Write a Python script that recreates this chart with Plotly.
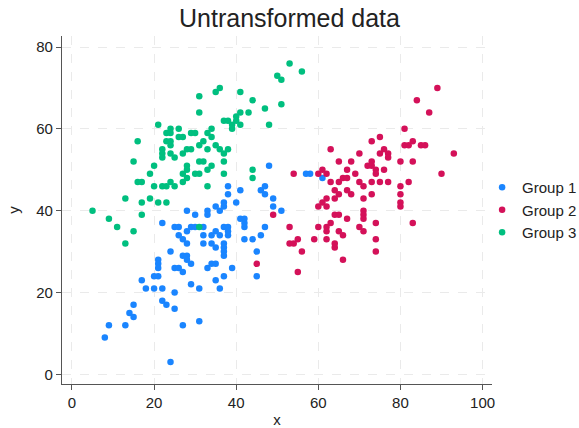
import plotly.graph_objects as go

# Group 1 (blue)
g1_x = [22,25,26,26,27,28,28,29,30,28,30,33,33,32,32,32,34,35,36,34,35,24,27,28,28,29,21,21,21,25,26,27,33,34,35,20,21,17,18,20,22,25,29,31,35,36,22,23,25,15,14,15,9,13,8,27,31,24,
        38,38,41,40,46,47,47,49,49,51,35,36,37,37,37,38,38,38,37,37,37,37,41,42,42,42,42,44,46,47,45,45,39,37,48,57,58,61]
g1_y = [37,36,36,34,33,32,35,36,36,40,39,40,39,36,34,32,34,35,34,32,31,30,29,29,28,27,28,27,26,26,26,25,26,27,27,24,24,23,21,21,21,20,22,21,23,21,18,17,16,17,15,14,12,12,9,12,13,3,
        46,44,45,42,45,46,44,43,41,40,41,40,41,42,36,36,35,34,32,31,30,29,38,38,37,36,33,33,34,36,30,24,26,24,51,49,49,48]

# Group 2 (crimson)
g2_x = [89,84,87,81,75,73,63,70,75,76,77,77,81,82,83,85,86,93,65,68,73,72,73,74,74,80,83,76,67,69,54,60,61,62,66,67,65,63,70,71,73,75,77,82,80,80,80,80,90,
        64,65,64,67,68,71,73,62,61,60,62,64,65,67,71,71,71,74,83,63,62,62,60,65,66,70,71,62,59,64,64,66,74,74,53,53,54,55,56,55,49,45]
g2_y = [70,67,64,60,58,57,55,54,54,55,54,53,56,56,57,56,56,54,52,52,52,51,51,50,49,52,52,50,50,49,49,49,50,49,48,48,47,47,47,46,47,47,47,47,46,44,42,41,49,
        45,44,43,45,44,43,44,43,42,41,41,39,39,38,40,39,38,37,37,37,36,35,36,35,34,36,35,33,33,32,31,28,33,30,36,32,32,33,30,25,39,27]

# Group 3 (green)
g3_x = [31,35,36,31,21,24,23,24,26,26,27,29,30,33,34,34,23,24,24,22,22,22,24,25,27,28,29,31,32,33,35,36,37,38,37,37,44,44,31,32,34,33,28,28,27,28,27,30,31,20,19,15,16,16,17,20,22,23,24,25,33,13,17,19,21,23,17,9,11,15,13,31,5,
        53,56,50,51,41,44,47,51,43,41,37,38,39,39,40,41,40,48]
g3_y = [68,69,70,64,61,60,59,59,60,58,58,59,59,59,60,58,57,57,56,55,54,53,54,53,54,55,55,56,57,55,56,55,54,55,52,49,50,48,52,52,51,50,51,50,49,48,47,49,49,51,49,52,57,47,47,46,46,46,47,46,46,43,42,43,42,42,39,38,36,35,32,36,40,
        76,74,73,72,69,67,65,66,64,64,62,62,61,60,63,61,62,61]

groups = ["Group 1", "Group 2", "Group 3"]
colors = ["#1a85ff", "#d41159", "#00bf7f"]
xs = [g1_x, g2_x, g3_x]
ys = [g1_y, g2_y, g3_y]

x_ticks = [0, 20, 40, 60, 80, 100]
y_ticks = [0, 20, 40, 60, 80]

FONT = "Liberation Sans, Arial, Helvetica, sans-serif"

fig = go.Figure()
for name, c, x, y in zip(groups, colors, xs, ys):
    fig.add_trace(go.Scatter(x=x, y=y, mode="markers", name=name,
                             marker=dict(color=c, size=6.5, line=dict(width=0))))

axis_common = dict(
    showline=True, linecolor="#555555", linewidth=1.3,
    ticks="outside", ticklen=5, tickcolor="#555555", tickwidth=1.3,
    showgrid=True, gridcolor="#eaeaea", gridwidth=1, griddash="dash",
    zeroline=False, tickfont=dict(size=15, color="#222222", family=FONT),
    mirror=False, automargin=False,
)

fig.update_layout(
    width=579, height=428,
    margin=dict(l=62, r=87, t=36, b=44, autoexpand=False),
    paper_bgcolor="white", plot_bgcolor="white",
    font=dict(family=FONT, color="#222222"),
    title=dict(text="Untransformed data", x=0.5, xref="container", xanchor="center",
               y=1 - 18 / 428, yref="container", yanchor="middle",
               font=dict(size=25, color="#222222", family=FONT)),
    xaxis=dict(range=[-2.43, 102.3], tickvals=x_ticks,
               title=dict(text="x", font=dict(size=15), standoff=8), **axis_common),
    yaxis=dict(range=[-2.37, 82.7], tickvals=y_ticks,
               title=dict(text="y", font=dict(size=15), standoff=12), **axis_common),
    legend=dict(x=0.977, xanchor="left", y=0.5, yanchor="middle",
                font=dict(size=15, color="#222222", family=FONT),
                bgcolor="rgba(0,0,0,0)", borderwidth=0),
    showlegend=True,
)

fig.write_html("out.html",
               config={"displayModeBar": False},
               post_script="document.body.style.margin='0';document.body.style.overflow='hidden';")
